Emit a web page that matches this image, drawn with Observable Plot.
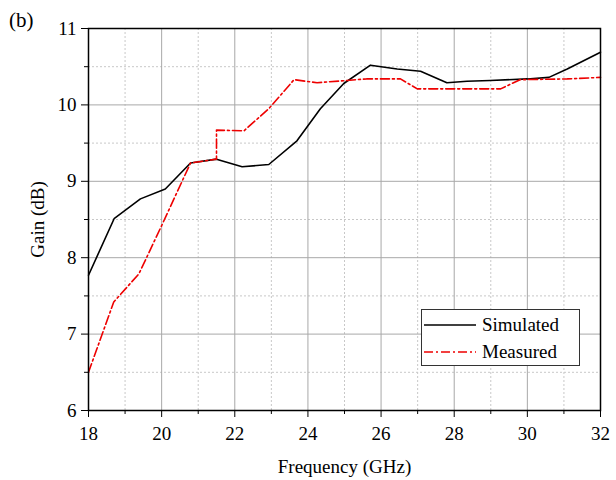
<!DOCTYPE html>
<html><head><meta charset="utf-8">
<script src="https://cdn.jsdelivr.net/npm/d3@7"></script>
<script src="https://cdn.jsdelivr.net/npm/@observablehq/plot@0.6"></script>
<style>
body{margin:0;background:#fff;}
#wrap{position:relative;width:616px;height:480px;font-family:'Liberation Serif','Tinos','DejaVu Serif','Times New Roman',serif;color:#000;}
#tag{position:absolute;left:9px;top:8px;font-size:21px;}
#legend{position:absolute;left:421px;top:309px;width:157px;height:55px;border:1px solid #333;background:#fff;font-size:19px;}
.row{position:absolute;left:0;height:22px;display:flex;align-items:center;}
.row svg{margin-left:2px;margin-right:6px;}
</style></head><body><div id="wrap"><div id="tag">(b)</div></div>
<script>
const simFreq = [18, 18.7, 19.42, 20.1, 20.79, 21.5, 22.2, 22.93, 23.7, 24.34, 24.98, 25.71, 26.44, 27.08, 27.8, 28.35, 28.98, 30.0, 30.59, 31.09, 32];
const simGain = [7.77, 8.51, 8.77, 8.9, 9.24, 9.29, 9.19, 9.22, 9.53, 9.95, 10.28, 10.52, 10.47, 10.44, 10.29, 10.31, 10.32, 10.34, 10.36, 10.47, 10.69];
const meaFreq = [18, 18.69, 19.38, 20.0, 20.79, 21.5, 21.5, 22.25, 22.93, 23.62, 24.25, 25.07, 25.6, 26.53, 26.99, 27.8, 29.27, 29.8, 31.09, 32];
const meaGain = [6.5, 7.42, 7.79, 8.42, 9.24, 9.29, 9.67, 9.66, 9.95, 10.33, 10.29, 10.32, 10.34, 10.34, 10.21, 10.21, 10.21, 10.33, 10.34, 10.36];
const seriesNames = ["Simulated", "Measured"];
const seriesColors = ["#000000", "#ee0000"];
const seriesDash = [null, "9,3,2,3"];
const xMajor = [18, 20, 22, 24, 26, 28, 30, 32];
const xMinor = [19, 21, 23, 25, 27, 29, 31];
const yMajor = [6, 7, 8, 9, 10, 11];
const yMinor = [6.5, 7.5, 8.5, 9.5, 10.5];
const xTitle = "Frequency (GHz)";
const yTitle = "Gain (dB)";

const serif = "'Liberation Serif','Tinos','DejaVu Serif','Times New Roman',serif";
const sim = simFreq.map((f, i) => ({f, g: simGain[i]}));
const mea = meaFreq.map((f, i) => ({f, g: meaGain[i]}));

const chart = Plot.plot({
  width: 616, height: 480,
  marginLeft: 88, marginRight: 16, marginTop: 28, marginBottom: 70,
  style: {fontFamily: serif, fontSize: "19px", color: "#000", background: "#fff"},
  x: {domain: [18, 32]},
  y: {domain: [6, 11]},
  marks: [
    Plot.ruleX(xMinor, {stroke: "#c8c8c8", strokeDasharray: "2,2"}),
    Plot.ruleY(yMinor, {stroke: "#c8c8c8", strokeDasharray: "2,2"}),
    Plot.ruleX(xMajor.slice(1, -1), {stroke: "#a8a8a8"}),
    Plot.ruleY(yMajor.slice(1, -1), {stroke: "#a8a8a8"}),
    Plot.line(sim, {x: "f", y: "g", stroke: seriesColors[0], strokeWidth: 1.6}),
    Plot.line(mea, {x: "f", y: "g", stroke: seriesColors[1], strokeWidth: 1.6, strokeDasharray: seriesDash[1]}),
    Plot.frame({stroke: "#000", strokeWidth: 1.5}),
    Plot.axisX(xMinor, {tickSize: 4, tickFormat: () => "", label: null}),
    Plot.axisY(yMinor, {tickSize: 4, tickFormat: () => "", label: null}),
    Plot.axisX(xMajor, {tickSize: 7, tickPadding: 9, fontSize: 19, tickFormat: d3.format("d"), label: xTitle, labelAnchor: "center", labelArrow: "none", labelOffset: 62}),
    Plot.axisY(yMajor, {tickSize: 7, tickPadding: 5, fontSize: 19, tickFormat: d3.format("d"), label: yTitle, labelAnchor: "center", labelArrow: "none", labelOffset: 58})
  ]
});
chart.style.fontFamily = serif;
const wrap = document.getElementById("wrap");
wrap.appendChild(chart);

const legend = document.createElement("div");
legend.id = "legend";
seriesNames.forEach((name, i) => {
  const row = document.createElement("div");
  row.className = "row";
  row.style.top = (4 + i * 27) + "px";
  const dash = seriesDash[i] ? ` stroke-dasharray="${seriesDash[i]}"` : "";
  row.innerHTML = `<svg width="52" height="10"><line x1="0" y1="5" x2="52" y2="5" stroke="${seriesColors[i]}" stroke-width="1.6"${dash}/></svg><span>${name}</span>`;
  legend.appendChild(row);
});
wrap.appendChild(legend);
</script></body></html>
